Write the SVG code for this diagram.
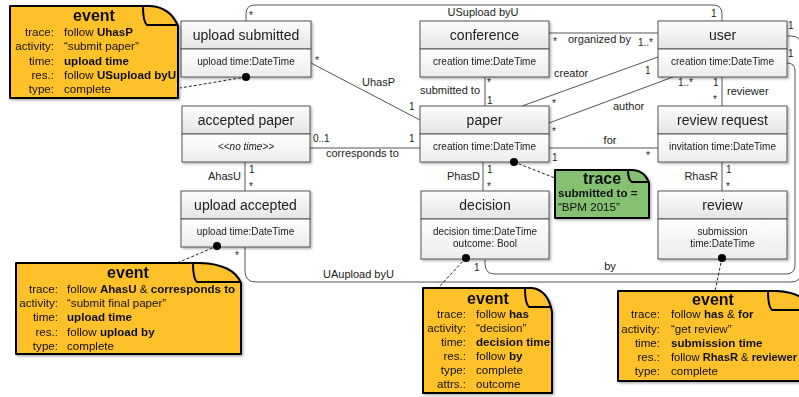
<svg xmlns="http://www.w3.org/2000/svg" width="799" height="397" viewBox="0 0 799 397">
<defs>
<linearGradient id="gh" x1="0" y1="0" x2="0" y2="1"><stop offset="0" stop-color="#fdfdfd"/><stop offset="1" stop-color="#e4e4e4"/></linearGradient>
<linearGradient id="ga" x1="0" y1="0" x2="0" y2="1"><stop offset="0" stop-color="#fefefe"/><stop offset="1" stop-color="#ececec"/></linearGradient>
<filter id="sh" x="-10%" y="-10%" width="130%" height="130%"><feDropShadow dx="1.5" dy="1.5" stdDeviation="1" flood-color="#000" flood-opacity="0.3"/></filter>
</defs>
<style>
.nh{fill:url(#gh);stroke:#555;stroke-width:1}
.na{fill:url(#ga);stroke:#555;stroke-width:1}
text{font-family:"Liberation Sans",Arial,sans-serif;fill:#222}
.h{font-size:14px;text-anchor:middle}
.a{font-size:10px;text-anchor:middle}
.l{font-size:11px}
.m{font-size:10px}
.e{text-anchor:end}
.mid{text-anchor:middle}
.c{fill:none;stroke:#555;stroke-width:1}
.note{fill:#FEC12A;stroke:#000;stroke-width:2;stroke-linejoin:round}
.tr{fill:#84C172;stroke:#000;stroke-width:2;stroke-linejoin:round}
.fold{fill:none;stroke:#000;stroke-width:2;stroke-linejoin:round}
.nt{font-size:11.6px;fill:#111}
.ttl{font-size:16px;font-weight:bold;text-anchor:middle;fill:#111}
.b{font-weight:bold}
.dash{stroke:#222;stroke-dasharray:3,2;fill:none;stroke-width:1}
.dot{fill:#000}
</style>
<rect width="799" height="397" fill="#fff"/>

<g id="connectors">
<path class="c" d="M246,21 V14 Q246,5 255,5 H713 Q722,5 722,14 V21"/>
<path class="c" d="M311,63 L420,120"/>
<path class="c" d="M549,33 H658"/>
<path class="c" d="M485,77 V106"/>
<path class="c" d="M658,57 L522,106"/>
<path class="c" d="M673,77 L549,123"/>
<path class="c" d="M722,77 V106"/>
<path class="c" d="M549,148 H658"/>
<path class="c" d="M310,148 H420"/>
<path class="c" d="M245,162 V191"/>
<path class="c" d="M483,162 V191"/>
<path class="c" d="M722,162 V191"/>
<path class="c" d="M787,36 H791 Q801,36 801,46 V272 Q801,282 791,282 H256 Q245,282 245,271 V247"/>
<path class="c" d="M787,63 Q795,63 795,71 V265 Q795,274 786,274 H495 Q485,274 485,264 V260"/>
<text class="l mid" x="483" y="16">USupload byU</text>
<text class="m" x="249" y="19">*</text>
<text class="m" x="711" y="17">1</text>
<text class="l" x="362" y="86">UhasP</text>
<text class="m" x="315" y="64">*</text>
<text class="m" x="409" y="110">1</text>
<text class="l" x="568" y="43">organized by</text>
<text class="m" x="553" y="45">*</text>
<text class="m" x="638" y="46">1..*</text>
<text class="l e" x="480" y="94">submitted to</text>
<text class="m" x="487" y="86">*</text>
<text class="m" x="487" y="104">1</text>
<text class="l" x="554" y="77">creator</text>
<text class="m" x="645" y="74">1</text>
<text class="m" x="552" y="107">*</text>
<text class="l" x="613" y="110">author</text>
<text class="m" x="678" y="86">1..*</text>
<text class="m" x="552" y="135">*</text>
<text class="m" x="713" y="86">1</text>
<text class="m" x="713" y="103">*</text>
<text class="l" x="727" y="95">reviewer</text>
<text class="l mid" x="610" y="144">for</text>
<text class="m" x="552" y="161">1</text>
<text class="m" x="646" y="159">*</text>
<text class="m" x="313" y="142">0..1</text>
<text class="m" x="409" y="142">1</text>
<text class="l" x="326" y="157">corresponds to</text>
<text class="l e" x="241" y="180">AhasU</text>
<text class="m" x="249" y="173">1</text>
<text class="m" x="249" y="190">*</text>
<text class="l e" x="480" y="180">PhasD</text>
<text class="m" x="487" y="173">1</text>
<text class="m" x="487" y="190">*</text>
<text class="l e" x="718" y="180">RhasR</text>
<text class="m" x="726" y="173">1</text>
<text class="m" x="726" y="190">*</text>
<text class="l" x="323" y="278">UAupload byU</text>
<text class="m" x="235" y="259">*</text>
<text class="m" x="788" y="29">1</text>
<text class="l mid" x="610" y="270">by</text>
<text class="m" x="474" y="271">1</text>
<text class="m" x="788" y="57">1</text>
<path class="dash" d="M246,77 L180,88"/>
<path class="dash" d="M514,162 L555,178"/>
<path class="dash" d="M217,246 L177,263"/>
<path class="dash" d="M466,258 L438,288"/>
<path class="dash" d="M722,258 L715,291"/>
</g>

<g id="upload-submitted" filter="url(#sh)">
<rect class="nh" x="181" y="21" width="130" height="28"/>
<rect class="na" x="181" y="49" width="130" height="28"/>
<text class="h" x="246" y="40">upload submitted</text>
<text class="a" x="246" y="65">upload time:DateTime</text>
</g>
<g id="conference" filter="url(#sh)">
<rect class="nh" x="420" y="21" width="129" height="28"/>
<rect class="na" x="420" y="49" width="129" height="28"/>
<text class="h" x="484.5" y="40">conference</text>
<text class="a" x="484.5" y="65">creation time:DateTime</text>
</g>
<g id="user" filter="url(#sh)">
<rect class="nh" x="658" y="21" width="129" height="28"/>
<rect class="na" x="658" y="49" width="129" height="28"/>
<text class="h" x="722.5" y="40">user</text>
<text class="a" x="722.5" y="65">creation time:DateTime</text>
</g>
<g id="accepted-paper" filter="url(#sh)">
<rect class="nh" x="182" y="106" width="128" height="28"/>
<rect class="na" x="182" y="134" width="128" height="28"/>
<text class="h" x="246" y="125">accepted paper</text>
<text class="a" x="246" y="150" font-style="italic">&lt;&lt;no time&gt;&gt;</text>
</g>
<g id="paper" filter="url(#sh)">
<rect class="nh" x="420" y="106" width="129" height="28"/>
<rect class="na" x="420" y="134" width="129" height="28"/>
<text class="h" x="484.5" y="125">paper</text>
<text class="a" x="484.5" y="150">creation time:DateTime</text>
</g>
<g id="review-request" filter="url(#sh)">
<rect class="nh" x="658" y="106" width="129" height="28"/>
<rect class="na" x="658" y="134" width="129" height="28"/>
<text class="h" x="722.5" y="125">review request</text>
<text class="a" x="722.5" y="150">invitation time:DateTime</text>
</g>
<g id="upload-accepted" filter="url(#sh)">
<rect class="nh" x="181" y="191" width="129" height="28"/>
<rect class="na" x="181" y="219" width="129" height="28"/>
<text class="h" x="245.5" y="210">upload accepted</text>
<text class="a" x="245.5" y="235">upload time:DateTime</text>
</g>
<g id="decision" filter="url(#sh)">
<rect class="nh" x="421" y="191" width="128" height="28"/>
<rect class="na" x="421" y="219" width="128" height="40"/>
<text class="h" x="485" y="210">decision</text>
<text class="a" x="485" y="235">decision time:DateTime</text>
<text class="a" x="485" y="247">outcome: Bool</text>
</g>
<g id="review" filter="url(#sh)">
<rect class="nh" x="658" y="191" width="129" height="28"/>
<rect class="na" x="658" y="219" width="129" height="40"/>
<text class="h" x="722.5" y="210">review</text>
<text class="a" x="722.5" y="235">submission</text>
<text class="a" x="722.5" y="247">time:DateTime</text>
</g>

<g id="dots">
<circle class="dot" cx="246" cy="77" r="4"/>
<circle class="dot" cx="514" cy="162" r="4"/>
<circle class="dot" cx="217" cy="246" r="4"/>
<circle class="dot" cx="466" cy="258" r="4"/>
<circle class="dot" cx="722" cy="258" r="4"/>
</g>

<g id="note-upload-submitted" filter="url(#sh)">
<path class="note" d="M10,6 H150 Q170,7 178,26 V98 H10 Z"/>
<path class="fold" d="M143,6 Q143,22 147,25 H178"/>
<text class="ttl" x="94" y="21">event</text>
<text class="nt e" x="54" y="36">trace:</text><text class="nt" x="64" y="36">follow <tspan class="b">UhasP</tspan></text>
<text class="nt e" x="54" y="50">activity:</text><text class="nt" x="64" y="50">“submit paper”</text>
<text class="nt e" x="54" y="65">time:</text><text class="nt b" x="64" y="65">upload time</text>
<text class="nt e" x="54" y="79">res.:</text><text class="nt" x="64" y="79">follow <tspan class="b">USupload byU</tspan></text>
<text class="nt e" x="54" y="93">type:</text><text class="nt" x="64" y="93">complete</text>
</g>

<g id="note-trace" filter="url(#sh)">
<path class="tr" d="M555,170 H633 Q645,171 649,183 V218 H555 Z"/>
<path class="fold" d="M628,170 Q628,180 632,182 H649"/>
<text class="ttl" x="602" y="184">trace</text>
<text class="nt b" x="558" y="197">submitted to =</text>
<text class="nt" x="558" y="211">“BPM 2015”</text>
</g>

<g id="note-upload-accepted" filter="url(#sh)">
<path class="note" d="M16,263 H200 Q233,264 241,283 V354 H16 Z"/>
<path class="fold" d="M193,263 Q193,279 197,282 H241"/>
<text class="ttl" x="128" y="278">event</text>
<text class="nt e" x="58" y="293">trace:</text><text class="nt" x="67" y="293">follow <tspan class="b">AhasU</tspan> &amp; <tspan class="b">corresponds to</tspan></text>
<text class="nt e" x="58" y="307">activity:</text><text class="nt" x="67" y="307">“submit final paper”</text>
<text class="nt e" x="58" y="321">time:</text><text class="nt b" x="67" y="321">upload time</text>
<text class="nt e" x="58" y="336">res.:</text><text class="nt" x="67" y="336">follow <tspan class="b">upload by</tspan></text>
<text class="nt e" x="58" y="350">type:</text><text class="nt" x="67" y="350">complete</text>
</g>

<g id="note-decision" filter="url(#sh)">
<path class="note" d="M423,288 H532 Q548,290 552,312 V393 H423 Z"/>
<path class="fold" d="M525,288 Q525,304 529,307 H552"/>
<text class="ttl" x="488" y="304">event</text>
<text class="nt e" x="466" y="318">trace:</text><text class="nt" x="476" y="318">follow <tspan class="b">has</tspan></text>
<text class="nt e" x="466" y="332">activity:</text><text class="nt" x="476" y="332">“decision”</text>
<text class="nt e" x="466" y="346">time:</text><text class="nt b" x="476" y="346">decision time</text>
<text class="nt e" x="466" y="360">res.:</text><text class="nt" x="476" y="360">follow <tspan class="b">by</tspan></text>
<text class="nt e" x="466" y="374">type:</text><text class="nt" x="476" y="374">complete</text>
<text class="nt e" x="466" y="388">attrs.:</text><text class="nt" x="476" y="388">outcome</text>
</g>

<g id="note-review" filter="url(#sh)">
<path class="note" d="M618,291 H776 Q805,292 813,311 V381 H618 Z"/>
<path class="fold" d="M768,291 Q768,307 772,310 H813"/>
<text class="ttl" x="713" y="305">event</text>
<text class="nt e" x="660" y="318">trace:</text><text class="nt" x="671" y="318">follow <tspan class="b">has</tspan> &amp; <tspan class="b">for</tspan></text>
<text class="nt e" x="660" y="333">activity:</text><text class="nt" x="671" y="333">“get review”</text>
<text class="nt e" x="660" y="347">time:</text><text class="nt b" x="671" y="347">submission time</text>
<text class="nt e" x="660" y="361">res.:</text><text class="nt" x="671" y="361" textLength="126" lengthAdjust="spacingAndGlyphs">follow <tspan class="b">RhasR</tspan> &amp; <tspan class="b">reviewer</tspan></text>
<text class="nt e" x="660" y="375">type:</text><text class="nt" x="671" y="375">complete</text>
</g>
</svg>
